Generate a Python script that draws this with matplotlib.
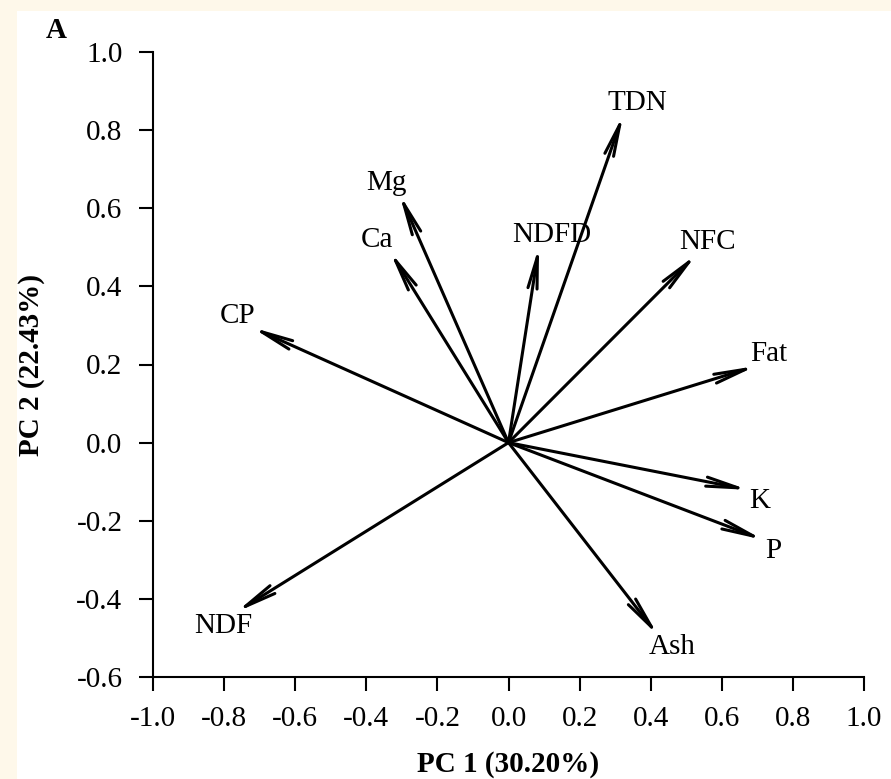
"""
PCA loading plot (panel A): nutrient variables on PC1 vs PC2.
Saves out.png.
"""
import matplotlib
matplotlib.use("Agg")
import matplotlib.pyplot as plt
from matplotlib.patches import Rectangle

plt.rcParams["font.family"] = ["Liberation Serif", "DejaVu Serif"]

# ---------------------------------------------------------------------------
# Data — loadings
# ---------------------------------------------------------------------------

variables = ["TDN", "Mg", "Ca", "NDFD", "NFC", "CP", "Fat", "K", "P", "Ash", "NDF"]
pc1 = [0.323, -0.307, -0.334, 0.086, 0.529, -0.722, 0.696, 0.675, 0.717, 0.421, -0.766]
pc2 = [0.840, 0.637, 0.490, 0.503, 0.482, 0.295, 0.196, -0.121, -0.249, -0.494, -0.434]

x_ticks = [-1.0, -0.8, -0.6, -0.4, -0.2, 0.0, 0.2, 0.4, 0.6, 0.8, 1.0]
y_ticks = [-0.6, -0.4, -0.2, 0.0, 0.2, 0.4, 0.6, 0.8, 1.0]

x_title = "PC 1 (30.20%)"
y_title = "PC 2 (22.43%)"

# label offsets from arrow tip, in points (x right, y up)
label_offsets = {
    "TDN": (10, 8), "Mg": (-9, 8), "Ca": (-9, 8), "NDFD": (9, 8),
    "NFC": (8, 9), "CP": (-10, 8), "Fat": (9, 9), "K": (8, -8),
    "P": (7, -8), "Ash": (10, -8), "NDF": (-9, -10),
}

FS = 21

# ---------------------------------------------------------------------------
# Figure
# ---------------------------------------------------------------------------

W, H = 891, 779
fig = plt.figure(figsize=(W / 100, H / 100), dpi=100)
fig.patch.set_facecolor("#fef8ea")
fig.patches.append(Rectangle((17 / W, 0), 1, 1 - 11 / H, transform=fig.transFigure,
                             facecolor="white", edgecolor="none", zorder=-10))

ax = fig.add_axes([153 / W, 1 - 677 / H, 711 / W, 625 / H])
ax.set_facecolor("none")

for name, x, y in zip(variables, pc1, pc2):
    ax.annotate("", xy=(x, y), xytext=(0, 0), xycoords="data", textcoords="data",
                arrowprops=dict(arrowstyle="->,head_length=2.3,head_width=0.33",
                                lw=2.2, color="black", shrinkA=0, shrinkB=0))
    ax.annotate(name, xy=(x, y), xytext=label_offsets[name], textcoords="offset points",
                ha="center", va="center", fontsize=FS, color="black")

ax.set_xlim(-1.0, 1.0)
ax.set_ylim(-0.6, 1.0)
ax.set_xticks(x_ticks)
ax.set_yticks(y_ticks)
ax.set_xticklabels([f"{v:.1f}" for v in x_ticks])
ax.set_yticklabels([f"{v:.1f}" for v in y_ticks])

for side in ("top", "right"):
    ax.spines[side].set_visible(False)
for side in ("left", "bottom"):
    ax.spines[side].set_linewidth(1.5)

ax.tick_params(direction="out", length=10, width=1.5, labelsize=FS)
ax.tick_params(axis="x", pad=11)
ax.tick_params(axis="y", pad=12)

ax.set_xlabel(x_title, fontsize=FS, fontweight="bold")
ax.set_ylabel(y_title, fontsize=FS, fontweight="bold")
ax.xaxis.set_label_coords(0.5, -0.118)
ax.yaxis.set_label_coords(-0.152, 0.5)

fig.text(56 / W, 1 - 30 / H, "A", ha="center", va="center", fontsize=FS, fontweight="bold")

fig.savefig("out.png", dpi=100, facecolor=fig.get_facecolor())
